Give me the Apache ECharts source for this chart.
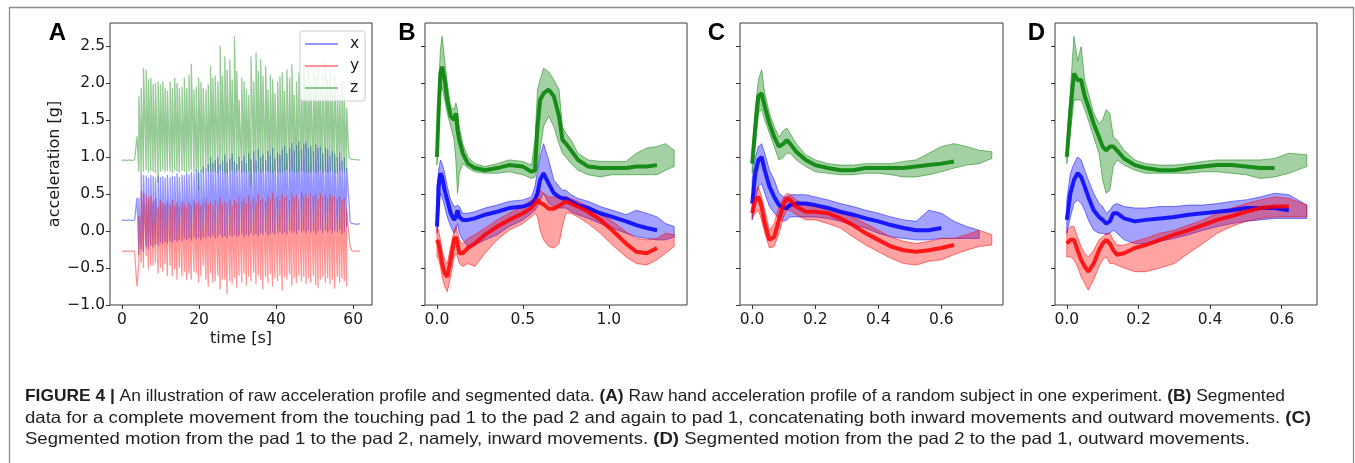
<!DOCTYPE html>
<html><head><meta charset="utf-8">
<script src="https://cdn.jsdelivr.net/npm/echarts@6/dist/echarts.min.js"></script>
<style>html,body{margin:0;padding:0;background:#fff}#c{width:1355px;height:463px}</style>
</head><body><div id="c"></div>
<script>
// ---------------- Panel A : raw acceleration (one spike per movement) ----------------
const spikeT = [4.4,5.0,5.6,6.3,6.9,7.5,8.1,8.7,9.4,10.0,10.6,11.2,11.8,12.5,13.1,13.7,14.3,14.9,15.6,16.2,
16.8,17.4,18.0,18.7,19.3,19.9,20.5,21.1,21.8,22.4,23.0,23.6,24.2,24.9,25.5,26.1,26.7,27.3,28.0,28.6,
29.2,29.8,30.4,31.1,31.7,32.3,32.9,33.5,34.2,34.8,35.4,36.0,36.6,37.3,37.9,38.5,39.1,39.7,40.4,41.0,
41.6,42.2,42.8,43.5,44.1,44.7,45.3,45.9,46.6,47.2,47.8,48.4,49.0,49.7,50.3,50.9,51.5,52.1,52.8,53.4,
54.0,54.6,55.2,55.9,56.5,57.1,57.7,58.3];
const zHi = [1.82,1.93,2.20,2.18,2.05,2.07,1.99,2.00,2.02,1.98,2.02,1.93,1.89,2.02,1.93,2.07,2.00,1.93,1.95,2.07,
1.93,2.11,2.26,1.91,1.95,2.07,2.01,1.93,1.91,1.98,2.23,2.07,2.10,2.02,2.50,2.09,2.36,2.18,2.32,2.05,
2.63,2.16,1.77,2.07,2.02,1.91,1.84,2.36,2.02,2.41,2.16,2.32,2.09,2.23,1.91,2.11,2.05,1.86,2.02,2.09,
2.14,1.89,2.18,2.07,2.25,1.84,2.02,2.14,1.95,2.28,2.05,2.20,1.98,2.15,2.10,2.22,1.95,2.12,2.30,2.05,
2.18,1.96,2.10,1.92,1.85,2.02,1.80,1.66];
const zLo = [0.80,0.78,0.80,0.82,0.79,0.81,0.80,0.78,0.65,0.80,0.82,0.79,0.81,0.80,0.78,0.82,0.80,0.79,0.81,0.80,
0.78,0.80,0.82,0.79,0.81,0.55,0.80,0.78,0.82,0.80,0.79,0.81,0.80,0.78,0.82,0.80,0.79,0.77,0.80,0.81,
0.78,0.80,0.82,0.79,0.80,0.78,0.81,0.60,0.80,0.79,0.81,0.78,0.80,0.82,0.79,0.80,0.78,0.81,0.80,0.79,
0.78,0.80,0.82,0.79,0.81,0.78,0.80,0.79,0.81,0.80,0.78,0.80,0.79,0.81,0.78,0.80,0.82,0.79,0.80,0.78,
0.80,0.81,0.79,0.78,0.80,0.82,0.79,0.81];
const xHi = [0.45,0.78,0.76,0.75,0.72,0.76,0.74,0.72,0.75,0.73,0.74,0.72,0.76,0.73,0.75,0.74,0.78,0.73,0.76,0.75,
0.78,0.76,0.80,0.78,0.83,0.79,0.82,0.87,0.84,0.90,1.00,0.92,0.96,1.00,0.90,0.95,1.03,0.93,0.98,1.05,
0.94,0.90,1.00,0.95,1.02,0.92,1.05,0.97,1.08,0.95,1.10,1.00,1.04,0.96,1.08,1.02,1.12,0.98,1.06,1.03,
1.10,1.15,1.05,1.12,1.19,1.08,1.16,1.21,1.10,1.18,1.20,1.12,1.15,1.08,1.17,1.12,1.14,1.05,1.12,1.10,
1.02,1.08,1.05,1.00,1.06,0.95,1.00,0.85];
const xLo = [-0.32,-0.25,-0.28,-0.22,-0.25,-0.20,-0.22,-0.18,-0.20,-0.16,-0.18,-0.15,-0.17,-0.14,-0.16,-0.12,-0.15,-0.12,-0.14,-0.10,
-0.12,-0.10,-0.13,-0.08,-0.11,-0.09,-0.12,-0.08,-0.10,-0.07,-0.09,-0.06,-0.10,-0.08,-0.05,-0.09,-0.07,-0.10,-0.06,-0.08,
-0.05,-0.08,-0.06,-0.04,-0.08,-0.05,-0.07,-0.03,-0.06,-0.04,-0.07,-0.03,-0.05,-0.02,-0.06,-0.04,-0.02,-0.05,-0.03,-0.01,
-0.04,-0.02,-0.05,0.00,-0.03,-0.01,-0.04,0.01,-0.02,0.00,-0.03,0.01,-0.02,0.00,-0.04,-0.01,0.02,-0.03,0.00,-0.02,
0.01,-0.03,0.00,-0.02,0.01,-0.04,-0.02,0.05];
const yHi = [0.20,0.54,0.52,0.50,0.45,0.48,0.40,0.44,0.33,0.42,0.38,0.35,0.40,0.36,0.42,0.34,0.38,0.33,0.40,0.36,
0.32,0.38,0.35,0.42,0.36,0.40,0.34,0.38,0.44,0.36,0.40,0.35,0.42,0.38,0.45,0.36,0.40,0.38,0.43,0.35,
0.42,0.38,0.46,0.40,0.44,0.37,0.48,0.41,0.45,0.38,0.50,0.42,0.46,0.40,0.48,0.43,0.52,0.44,0.47,0.41,
0.50,0.45,0.48,0.42,0.52,0.46,0.49,0.44,0.53,0.47,0.50,0.45,0.52,0.48,0.50,0.44,0.51,0.47,0.49,0.45,
0.50,0.46,0.48,0.44,0.47,0.42,0.45,0.30];
const yLo = [-0.45,-0.43,-0.50,-0.34,-0.52,-0.47,-0.47,-0.43,-0.57,-0.50,-0.55,-0.45,-0.61,-0.47,-0.61,-0.52,-0.66,-0.50,-0.61,-0.55,
-0.66,-0.57,-0.66,-0.55,-0.57,-0.70,-0.61,-0.47,-0.66,-0.75,-0.57,-0.70,-0.68,-0.60,-0.79,-0.66,-0.66,-0.85,-0.68,-0.72,
-0.64,-0.77,-0.60,-0.70,-0.58,-0.74,-0.62,-0.68,-0.56,-0.72,-0.60,-0.66,-0.79,-0.62,-0.70,-0.58,-0.75,-0.64,-0.68,-0.60,
-0.80,-0.62,-0.66,-0.58,-0.74,-0.64,-0.70,-0.60,-0.68,-0.62,-0.72,-0.64,-0.70,-0.60,-0.73,-0.77,-0.66,-0.62,-0.70,-0.64,
-0.72,-0.66,-0.78,-0.62,-0.70,-0.64,-0.68,-0.75];
const restPreT = [0, 0.6, 1.2, 1.9, 2.6, 3.3, 3.9];
const zPre = [0.95, 0.96, 0.95, 0.96, 0.95, 0.96, 1.28];
const xPre = [0.14, 0.15, 0.14, 0.15, 0.14, 0.15, 0.45];
const yPre = [-0.27, -0.28, -0.27, -0.28, -0.27, -0.28, -0.75];
const restPostT = [58.9, 59.2, 59.6, 60.2, 60.9, 61.8];
const zPost = [1.00, 0.98, 0.96, 0.97, 0.96, 0.96];
const xPost = [0.42, 0.13, 0.10, 0.10, 0.09, 0.10];
const yPost = [-0.05, -0.20, -0.26, -0.28, -0.27, -0.28];

// ---------------- Panel B : pad1 -> pad2 -> pad1 (bundle centre / lower / upper) ----------------
const tB = [0,0.01,0.02,0.03,0.045,0.06,0.08,0.1,0.11,0.12,0.13,0.15,0.18,0.22,0.28,0.35,0.42,0.5,0.55,0.57,
0.585,0.6,0.62,0.65,0.68,0.71,0.73,0.75,0.78,0.82,0.88,0.95,1.02,1.1,1.16,1.22,1.28,1.33,1.38];
const bZmid = [1.0,1.64,2.13,2.22,2.04,1.77,1.55,1.5,1.59,1.36,1.23,1.05,0.91,0.85,0.82,0.85,0.89,0.87,0.8,0.82,
1.41,1.77,1.86,1.91,1.82,1.55,1.23,1.18,1.09,0.96,0.87,0.85,0.85,0.85,0.87,0.87,0.89];
const bZlo = [0.89,1.32,1.86,1.95,1.77,1.59,1.41,1.23,0.96,0.51,0.78,0.91,0.85,0.80,0.78,0.78,0.80,0.76,0.71,0.73,
0.87,1.09,1.41,1.55,1.41,1.18,1.05,1.0,0.91,0.82,0.76,0.73,0.76,0.76,0.76,0.76,0.76,0.82,0.87];
const bZhi = [1.12,1.95,2.45,2.63,2.31,2.0,1.68,1.64,1.73,1.64,1.41,1.18,1.0,0.91,0.87,0.91,0.96,0.94,0.89,1.23,
1.91,2.04,2.2,2.15,2.04,1.91,1.41,1.32,1.23,1.05,0.96,0.94,0.94,0.94,1.05,1.12,1.14,1.18,1.09];
const bXmid = [0.06,0.6,0.78,0.73,0.55,0.42,0.24,0.15,0.19,0.28,0.19,0.15,0.15,0.17,0.22,0.26,0.31,0.33,0.37,0.42,
0.51,0.69,0.78,0.64,0.51,0.46,0.44,0.44,0.4,0.35,0.31,0.24,0.19,0.13,0.08,0.04,0.01];
const bXlo = [-0.03,0.19,0.51,0.46,0.33,0.19,0.06,-0.03,0.01,0.1,-0.03,-0.12,-0.21,-0.19,-0.12,-0.05,0.06,0.15,0.24,0.28,
0.33,0.42,0.51,0.37,0.33,0.31,0.31,0.31,0.26,0.22,0.17,0.1,0.04,-0.03,-0.08,-0.1,-0.12,-0.12,-0.08];
const bXhi = [0.6,0.82,0.96,0.91,0.78,0.6,0.42,0.33,0.33,0.35,0.33,0.24,0.24,0.26,0.31,0.35,0.4,0.42,0.46,0.6,
0.82,1.0,1.18,0.96,0.69,0.6,0.55,0.55,0.49,0.44,0.4,0.33,0.28,0.22,0.28,0.24,0.19,0.1,0.06];
const bYmid = [-0.12,-0.17,-0.3,-0.44,-0.57,-0.62,-0.39,-0.12,-0.08,-0.17,-0.3,-0.3,-0.23,-0.17,-0.05,0.06,0.15,0.24,0.31,0.37,
0.42,0.38,0.36,0.3,0.3,0.34,0.37,0.4,0.37,0.33,0.26,0.15,0.01,-0.17,-0.28,-0.3,-0.23];
const bYlo = [-0.35,-0.39,-0.48,-0.62,-0.75,-0.82,-0.62,-0.35,-0.3,-0.35,-0.44,-0.48,-0.44,-0.48,-0.3,-0.12,0.01,0.1,0.19,0.24,
0.19,0.01,-0.12,-0.21,-0.23,-0.17,0.06,0.24,0.24,0.19,0.1,-0.03,-0.19,-0.35,-0.44,-0.46,-0.39,-0.3,-0.21];
const bYhi = [0.06,0.01,-0.12,-0.26,-0.39,-0.44,-0.21,0.01,0.06,-0.03,-0.12,-0.17,-0.1,-0.05,0.04,0.15,0.24,0.33,0.42,0.46,
0.55,0.55,0.51,0.46,0.46,0.46,0.46,0.46,0.44,0.4,0.33,0.24,0.13,-0.01,-0.1,-0.12,-0.1,-0.03,-0.05];

// ---------------- Panel C : pad1 -> pad2 (inward) ----------------
const tC = [0,0.01,0.02,0.03,0.04,0.055,0.07,0.085,0.1,0.11,0.12,0.14,0.17,0.2,0.24,0.28,0.32,0.36,0.4,0.44,
0.48,0.52,0.56,0.6,0.64,0.68,0.72,0.76];
const cZmid = [0.91,1.41,1.82,1.86,1.68,1.45,1.27,1.14,1.18,1.23,1.18,1.07,0.96,0.89,0.85,0.82,0.82,0.85,0.85,0.85,
0.85,0.87,0.89,0.91,0.94];
const cZlo = [0.78,1.14,1.59,1.64,1.5,1.32,1.14,0.96,1.0,1.05,1.05,0.96,0.87,0.8,0.78,0.76,0.76,0.78,0.78,0.76,
0.73,0.73,0.76,0.8,0.85,0.89,0.91,0.98];
const cZhi = [1.0,1.68,2.04,2.18,1.86,1.59,1.41,1.27,1.36,1.39,1.32,1.18,1.03,0.96,0.91,0.89,0.89,0.91,0.91,0.91,
0.94,0.96,1.05,1.14,1.18,1.14,1.09,1.07];
const cXmid = [0.37,0.78,0.96,1.0,0.82,0.6,0.46,0.35,0.31,0.31,0.35,0.37,0.37,0.35,0.31,0.26,0.22,0.17,0.13,0.08,
0.04,0.01,0.01,0.04];
const cXlo = [0.15,0.42,0.6,0.64,0.51,0.33,0.24,0.17,0.13,0.15,0.19,0.19,0.19,0.19,0.17,0.13,0.08,0.04,-0.03,-0.08,
-0.1,-0.12,-0.12,-0.1,-0.1,-0.1,-0.1];
const cXhi = [0.69,1.0,1.14,1.18,1.05,0.82,0.69,0.51,0.46,0.46,0.49,0.49,0.49,0.46,0.42,0.37,0.33,0.28,0.24,0.19,
0.15,0.13,0.28,0.24,0.13,0.06,0.01];
const cYmid = [0.24,0.42,0.46,0.33,0.1,-0.12,-0.08,0.15,0.37,0.44,0.42,0.33,0.26,0.26,0.24,0.17,0.08,-0.03,-0.12,-0.21,
-0.26,-0.28,-0.26,-0.23,-0.19];
const cYlo = [0.17,0.24,0.28,0.15,-0.03,-0.23,-0.21,-0.03,0.19,0.28,0.28,0.22,0.15,0.15,0.1,0.04,-0.08,-0.19,-0.28,-0.37,
-0.44,-0.46,-0.41,-0.39,-0.32,-0.26,-0.21,-0.19];
const cYhi = [0.33,0.55,0.6,0.46,0.28,0.01,0.1,0.33,0.46,0.51,0.49,0.42,0.35,0.33,0.31,0.26,0.19,0.1,0.01,-0.08,
-0.14,-0.17,-0.14,-0.1,-0.1,-0.05,0.01,-0.05];

// ---------------- Panel D : pad2 -> pad1 (outward) ----------------
const tD = [0,0.01,0.02,0.03,0.04,0.05,0.06,0.075,0.09,0.1,0.11,0.12,0.13,0.14,0.16,0.19,0.22,0.26,0.3,0.34,
0.38,0.42,0.46,0.5,0.54,0.58,0.62,0.67];
const dZmid = [1.0,1.64,2.13,2.04,2.04,1.82,1.68,1.45,1.27,1.14,1.09,1.14,1.14,1.09,0.98,0.89,0.85,0.82,0.82,0.85,
0.87,0.89,0.89,0.87,0.85,0.85];
const dZlo = [0.91,1.32,1.77,1.77,1.77,1.64,1.5,1.27,1.05,0.69,0.51,0.55,0.87,0.96,0.89,0.82,0.78,0.78,0.78,0.78,
0.8,0.8,0.78,0.76,0.71,0.73,0.78,0.87];
const dZhi = [1.14,1.91,2.63,2.3,2.49,2.04,1.86,1.59,1.45,1.5,1.64,1.59,1.27,1.23,1.09,0.96,0.91,0.89,0.89,0.91,
0.94,0.96,0.96,0.96,0.96,0.98,1.05,1.03];
const dXmid = [0.15,0.51,0.69,0.78,0.73,0.6,0.46,0.28,0.19,0.15,0.1,0.13,0.24,0.24,0.17,0.13,0.15,0.17,0.19,0.22,
0.24,0.26,0.28,0.31,0.31,0.31,0.28];
const dXlo = [-0.03,0.19,0.37,0.42,0.37,0.28,0.15,0.01,-0.03,-0.03,-0.05,-0.03,0.01,-0.03,-0.12,-0.17,-0.17,-0.14,-0.1,-0.05,
0.01,0.06,0.1,0.13,0.15,0.17,0.17,0.17];
const dXhi = [0.42,0.78,0.91,1.0,0.96,0.82,0.69,0.51,0.37,0.33,0.24,0.28,0.35,0.37,0.33,0.31,0.31,0.33,0.33,0.35,
0.35,0.37,0.4,0.42,0.46,0.51,0.49,0.35];
const dYmid = [-0.17,-0.12,-0.12,-0.26,-0.39,-0.48,-0.55,-0.44,-0.26,-0.17,-0.12,-0.17,-0.26,-0.32,-0.3,-0.23,-0.19,-0.12,-0.05,0.01,
0.08,0.15,0.2,0.26,0.31,0.33,0.33];
const dYlo = [-0.35,-0.35,-0.39,-0.48,-0.62,-0.71,-0.8,-0.66,-0.48,-0.39,-0.35,-0.44,-0.44,-0.46,-0.5,-0.55,-0.55,-0.5,-0.44,-0.3,
-0.17,-0.03,0.06,0.13,0.17,0.19,0.19,0.19];
const dYhi = [0.01,0.06,0.06,-0.08,-0.21,-0.3,-0.35,-0.26,-0.12,-0.08,-0.03,-0.03,-0.12,-0.19,-0.19,-0.14,-0.1,-0.03,0.01,0.08,
0.15,0.24,0.31,0.37,0.42,0.46,0.44,0.35];

// ---------------- ticks & text ----------------
const yTicks = [-1.0, -0.5, 0.0, 0.5, 1.0, 1.5, 2.0, 2.5];
const xTicksA = [0, 20, 40, 60];
const xTicksB = [0.0, 0.5, 1.0];
const xTicksC = [0.0, 0.2, 0.4, 0.6];
const xTicksD = [0.0, 0.2, 0.4, 0.6];
const seriesNames = ['x', 'y', 'z'];
const panelLetters = ['A', 'B', 'C', 'D'];
const yName = 'acceleration [g]';
const xNameA = 'time [s]';
const captionLines = [
  [['FIGURE 4 |', 1], [' An illustration of raw acceleration profile and segmented data. ', 0], ['(A)', 1], [' Raw hand acceleration profile of a random subject in one experiment. ', 0], ['(B)', 1], [' Segmented', 0]],
  [['data for a complete movement from the touching pad 1 to the pad 2 and again to pad 1, concatenating both inward movements and outward movements. ', 0], ['(C)', 1]],
  [['Segmented motion from the pad 1 to the pad 2, namely, inward movements. ', 0], ['(D)', 1], [' Segmented motion from the pad 2 to the pad 1, outward movements.', 0]]
];

// ---------------- build ----------------
const chart = echarts.init(document.getElementById('c'));
const TICKF = 'DejaVu Sans';
const fmtY = v => (v < 0 ? '\u2212' : '') + Math.abs(v).toFixed(1);
const fmt1 = v => v.toFixed(1);
const fmt0 = v => String(Math.round(v));

const gridBoxes = [[110, 262], [425, 262], [740, 263], [1055, 262]];
const grids = gridBoxes.map(([l, w]) => ({left: l, top: 23, width: w, height: 282, show: true,
  borderColor: '#3a3a3a', borderWidth: 1, backgroundColor: 'transparent', containLabel: false}));

function xAxisCfg(i, min, max, ticks, fmt) {
  return {type: 'value', gridIndex: i, min, max, position: 'bottom',
    axisLine: {show: false, onZero: false}, splitLine: {show: false},
    axisTick: {show: true, inside: false, length: 4, lineStyle: {color: '#333'}, customValues: ticks},
    axisLabel: {customValues: ticks, formatter: fmt, fontFamily: TICKF, fontSize: 15.5, color: '#1a1a1a', margin: 7}};
}
function yAxisCfg(i, showLab) {
  return {type: 'value', gridIndex: i, min: -1.0, max: 2.81, position: 'left',
    axisLine: {show: false, onZero: false}, splitLine: {show: false},
    axisTick: {show: true, inside: false, length: 4, lineStyle: {color: '#333'}, customValues: yTicks},
    axisLabel: {show: showLab, customValues: yTicks, formatter: fmtY, fontFamily: TICKF, fontSize: 15.5, color: '#1a1a1a', margin: 5}};
}

const xAxes = [xAxisCfg(0, -3.09, 64.89, xTicksA, fmt0), xAxisCfg(1, -0.0695, 1.4545, xTicksB, fmt1),
  xAxisCfg(2, -0.0385, 0.7955, xTicksC, fmt1), xAxisCfg(3, -0.0330, 0.6985, xTicksD, fmt1)];
const yAxes = [yAxisCfg(0, true), yAxisCfg(1, false), yAxisCfg(2, false), yAxisCfg(3, false)];

const colA = {x: 'rgba(0,0,255,0.42)', y: 'rgba(255,0,0,0.42)', z: 'rgba(0,128,0,0.42)'};
function rawData(pre, lo, hi, post) {
  const d = restPreT.map((t, i) => [t, pre[i]]);
  spikeT.forEach((t, i) => { d.push([t, lo[i]]); d.push([t, hi[i]]); });
  restPostT.forEach((t, i) => d.push([t, post[i]]));
  return d;
}
const series = [];
[['x', xPre, xLo, xHi, xPost], ['y', yPre, yLo, yHi, yPost], ['z', zPre, zLo, zHi, zPost]].forEach(([n, pre, lo, hi, post]) => {
  series.push({name: n, type: 'line', xAxisIndex: 0, yAxisIndex: 0, data: rawData(pre, lo, hi, post),
    showSymbol: false, symbol: 'none', color: colA[n], lineStyle: {color: colA[n], width: 1.3}, silent: true});
});

const rgb = {x: '0,0,255', y: '255,0,0', z: '0,128,0'};
function bundle(p, key, t, mid, lo, hi) {
  const c = rgb[key];
  series.push({name: panelLetters[p] + key + 'band', type: 'custom', xAxisIndex: p, yAxisIndex: p, silent: true,
    data: [[t[0], mid[0]]], clip: true,
    renderItem: (params, api) => {
      const pts = [];
      for (let i = 0; i < hi.length; i++) pts.push(api.coord([t[i], hi[i]]));
      for (let i = lo.length - 1; i >= 0; i--) pts.push(api.coord([t[i], lo[i]]));
      return {type: 'polygon', shape: {points: pts}, style: {fill: 'rgba(' + c + ',0.36)', stroke: 'rgba(' + c + ',0.5)', lineWidth: 1}};
    }});
  series.push({name: panelLetters[p] + key + 'mid', type: 'line', xAxisIndex: p, yAxisIndex: p, silent: true,
    data: mid.map((v, i) => [t[i], v]), showSymbol: false, symbol: 'none',
    lineStyle: {color: 'rgba(' + c + ',0.85)', width: 4}});
}
bundle(1, 'z', tB, bZmid, bZlo, bZhi); bundle(1, 'x', tB, bXmid, bXlo, bXhi); bundle(1, 'y', tB, bYmid, bYlo, bYhi);
bundle(2, 'z', tC, cZmid, cZlo, cZhi); bundle(2, 'x', tC, cXmid, cXlo, cXhi); bundle(2, 'y', tC, cYmid, cYlo, cYhi);
bundle(3, 'z', tD, dZmid, dZlo, dZhi); bundle(3, 'x', tD, dXmid, dXlo, dXhi); bundle(3, 'y', tD, dYmid, dYlo, dYhi);

// caption: measure and fit each line to its justified width
const CAPF = '"Liberation Sans", Arial, sans-serif';
const CAPS = 16.5;
const ctx = document.createElement('canvas').getContext('2d');
const capTargets = [1260, 1286, 1225];
const capY = [396, 418, 439.5];
const capGraphics = captionLines.map((segs, li) => {
  let w = 0, txt = '';
  segs.forEach(([s, b]) => {
    ctx.font = (b ? 'bold ' : '') + CAPS + 'px ' + CAPF;
    w += ctx.measureText(s).width;
    txt += '{' + (b ? 'b' : 'n') + '|' + s + '}';
  });
  return {type: 'text', x: 25, y: capY[li], scaleX: capTargets[li] / w, silent: true,
    style: {text: txt, align: 'left', verticalAlign: 'middle',
      rich: {b: {fontFamily: CAPF, fontSize: CAPS, fontWeight: 'bold', fill: '#1e1e1e'},
             n: {fontFamily: CAPF, fontSize: CAPS, fontWeight: 'normal', fill: '#1e1e1e'}}}};
});

const letterX = [57.5, 407, 716.5, 1036.5];
const graphics = [
  {type: 'polyline', silent: true, shape: {points: [[9.5, 470], [9.5, 7.5], [1353.5, 7.5], [1353.5, 470]]},
   style: {stroke: '#8c8c8c', lineWidth: 1.3, fill: null}},
  ...panelLetters.map((L, i) => ({type: 'text', x: letterX[i], y: 33.5, silent: true,
    style: {text: L, font: 'bold 24px "Liberation Sans", Arial, sans-serif', fill: '#000', align: 'center', verticalAlign: 'middle'}})),
  {type: 'text', x: 55, y: 164, rotation: Math.PI / 2, silent: true,
   style: {text: yName, font: '16px "DejaVu Sans"', fill: '#1a1a1a', align: 'center', verticalAlign: 'middle'}},
  {type: 'text', x: 241, y: 339, silent: true,
   style: {text: xNameA, font: '16px "DejaVu Sans"', fill: '#1a1a1a', align: 'center', verticalAlign: 'middle'}},
  ...capGraphics
];

chart.setOption({
  animation: false,
  backgroundColor: '#fff',
  grid: grids,
  xAxis: xAxes,
  yAxis: yAxes,
  legend: {data: seriesNames.map(n => ({name: n, icon: 'rect', itemStyle: {color: colA[n]}})),
    orient: 'vertical', left: 300, top: 31, itemWidth: 33, itemHeight: 2, itemGap: 6,
    padding: [5, 6, 5, 5], backgroundColor: 'rgba(255,255,255,0.8)', borderColor: '#cccccc', borderWidth: 1, borderRadius: 3,
    selectedMode: false, textStyle: {fontFamily: TICKF, fontSize: 15.5, color: '#1a1a1a', padding: [0, 0, 0, 7]}},
  series,
  graphic: graphics
});
</script>
</body></html>
